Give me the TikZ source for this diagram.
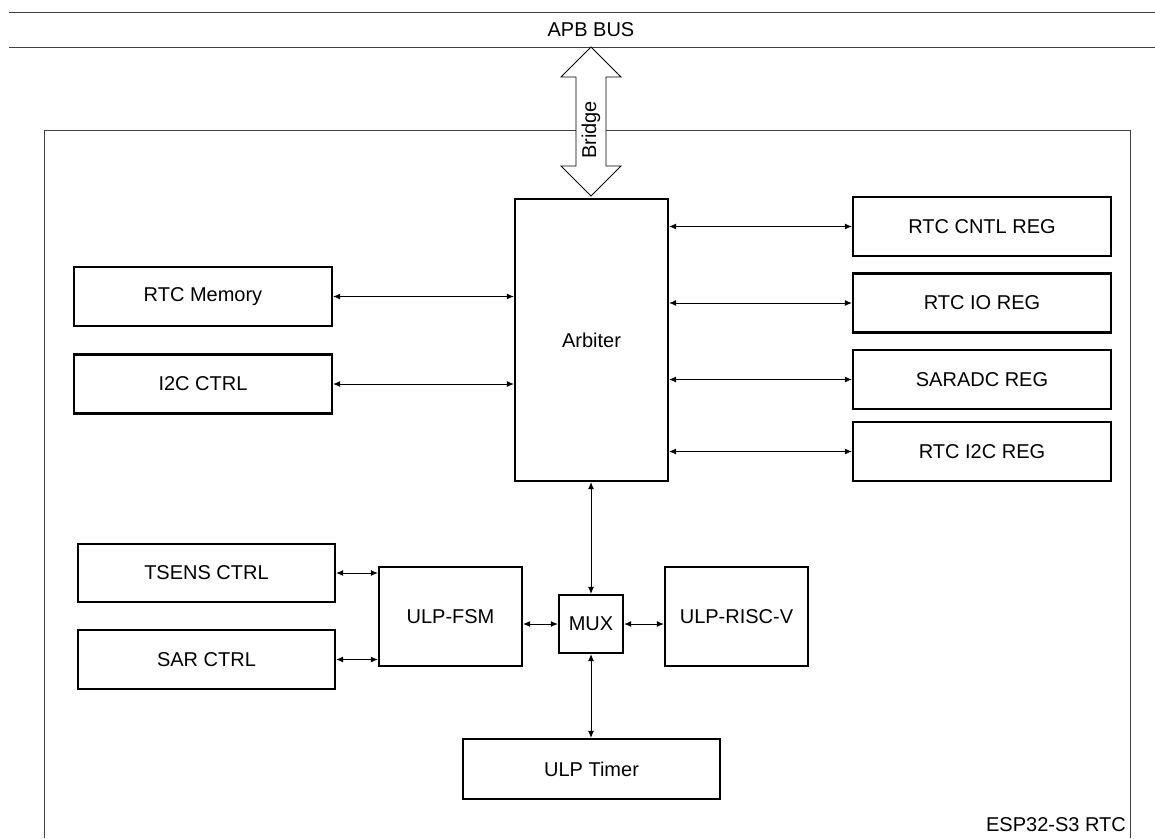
\documentclass[tikz,border=0pt]{standalone}
\usepackage{fontspec}
\setmainfont{Liberation Sans}
\usetikzlibrary{arrows.meta}
\newcommand\dfont{\fontsize{20}{24}\selectfont}
\begin{document}
\begin{tikzpicture}[x=1pt,y=-1pt,
  blk/.style={draw, line width=2.2pt, inner sep=0pt, font=\dfont},
  con/.style={line width=1pt, {Latex[length=7pt,width=6pt]}-{Latex[length=7pt,width=6pt]}},
  thinline/.style={line width=1pt, draw=black!75},
  lbl/.style={font=\dfont, inner sep=0pt}
]
\useasboundingbox (0,0) rectangle (1155,838);
\fill[white] (0,0) rectangle (1155,838);

% APB bus
\draw[thinline] (9,12) -- (1155,12);
\draw[thinline] (9,47) -- (1155,47);
\node[lbl] (bus) at (591,30) {APB BUS};

% outer RTC frame
\draw[thinline] (44,838) -- (44,130) -- (1130,130) -- (1130,838);
\node[lbl, anchor=east] (rtc) at (1126,825) {ESP32-S3 RTC};

% bridge arrow
\draw[line width=0.8pt, fill=white] (591,47) -- (561,77) -- (576,77) -- (576,166) -- (561,166) -- (591,196) -- (621,166) -- (606,166) -- (606,77) -- (621,77) -- cycle;
\node[lbl, rotate=90] (bridge) at (591,130) {Bridge};

% blocks
\node[blk, minimum width=153pt, minimum height=282pt] (arb) at (591.5,340) {Arbiter};
\node[blk, minimum width=258pt, minimum height=59pt] (mem) at (203,296.5) {RTC Memory};
\node[blk, minimum width=258pt, minimum height=59pt] (i2c) at (203,384) {I2C CTRL};
\node[blk, minimum width=258pt, minimum height=59pt] (cntl) at (982,226.5) {RTC CNTL REG};
\node[blk, minimum width=258pt, minimum height=59pt] (io) at (982,303) {RTC IO REG};
\node[blk, minimum width=258pt, minimum height=59pt] (sar) at (982,379.5) {SARADC REG};
\node[blk, minimum width=258pt, minimum height=59pt] (ri2c) at (982,451.5) {RTC I2C REG};
\node[blk, minimum width=257pt, minimum height=58pt] (tsens) at (206.5,573) {TSENS CTRL};
\node[blk, minimum width=257pt, minimum height=59pt] (sarc) at (206.5,659.5) {SAR CTRL};
\node[blk, minimum width=143pt, minimum height=99pt] (fsm) at (450.5,616.5) {ULP-FSM};
\node[blk, minimum width=64pt, minimum height=58pt] (mux) at (591,624) {MUX};
\node[blk, minimum width=143pt, minimum height=99pt] (risc) at (736.5,616.5) {ULP-RISC-V};
\node[blk, minimum width=257pt, minimum height=60pt] (timer) at (591.5,769) {ULP Timer};

% connectors
\draw[con] (mem.east) -- (mem.east -| arb.west);
\draw[con] (i2c.east) -- (i2c.east -| arb.west);
\draw[con] (cntl.west -| arb.east) -- (cntl.west);
\draw[con] (io.west -| arb.east) -- (io.west);
\draw[con] (sar.west -| arb.east) -- (sar.west);
\draw[con] (ri2c.west -| arb.east) -- (ri2c.west);
\draw[con] (arb.south -| mux.north) -- (mux.north);
\draw[con] (tsens.east) -- (tsens.east -| fsm.west);
\draw[con] (sarc.east) -- (sarc.east -| fsm.west);
\draw[con] (fsm.east |- mux.west) -- (mux.west);
\draw[con] (mux.east) -- (mux.east -| risc.west);
\draw[con] (mux.south) -- (timer.north -| mux.south);
\end{tikzpicture}
\end{document}
